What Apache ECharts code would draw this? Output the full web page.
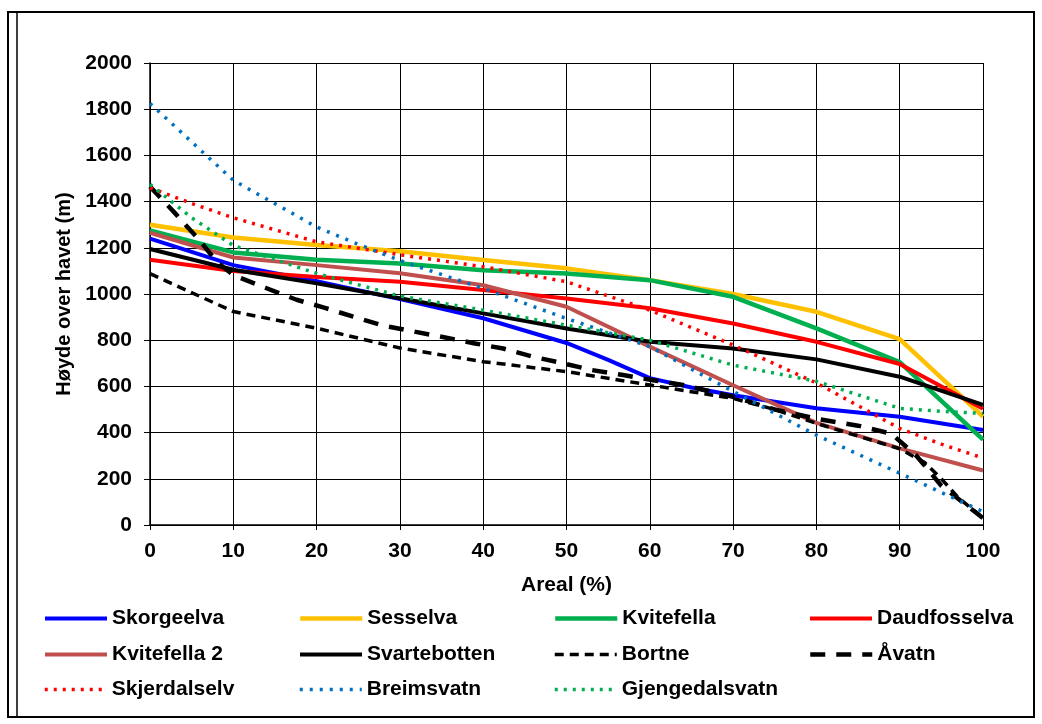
<!DOCTYPE html>
<html><head><meta charset="utf-8">
<script src="https://cdn.jsdelivr.net/npm/echarts@6/dist/echarts.min.js"></script>
<style>html,body{margin:0;padding:0;background:#fff}#c{width:1042px;height:724px}</style>
</head><body><div id="c"></div>
<script>
// Tick values
const xTicks = [0,10,20,30,40,50,60,70,80,90,100];
const yTicks = [0,200,400,600,800,1000,1200,1400,1600,1800,2000];
const xTitle = 'Areal (%)';
const yTitle = 'Høyde over havet (m)';

// Series data: [areal %, høyde m]
const skorgeelva = [[0,1240],[10,1125],[20,1055],[30,978],[40,895],[50,788],[55,715],[60,636],[65,595],[70,562],[80,505],[90,469],[100,411]];
const sesselva = [[0,1300],[10,1245],[20,1212],[30,1185],[40,1147],[50,1111],[60,1060],[70,1000],[80,923],[90,805],[100,469]];
const kvitefella = [[0,1275],[10,1180],[20,1148],[30,1132],[40,1103],[50,1089],[60,1060],[70,988],[80,851],[90,705],[100,370]];
const daudfosselva = [[0,1148],[10,1100],[20,1074],[30,1053],[40,1017],[50,981],[60,938],[70,872],[80,793],[90,697],[100,503]];
const kvitefella2 = [[0,1265],[10,1158],[20,1125],[30,1090],[40,1038],[50,945],[60,772],[70,605],[80,442],[90,332],[100,236]];
const svartebotten = [[0,1195],[10,1105],[20,1046],[30,982],[40,916],[50,851],[60,793],[70,764],[80,717],[90,642],[100,520]];
const bortne = [[0,1088],[10,924],[20,852],[30,766],[40,707],[50,664],[60,606],[70,548],[75,500],[80,440],[85,385],[90,330],[93,270],[95,200],[97,120],[100,30]];
const aavatn = [[0,1465],[3,1350],[6,1230],[8,1140],[10,1082],[14,1025],[17.6,975],[21,940],[24.4,902],[28,863],[31.6,838],[35,815],[39,786],[42.4,764],[46,728],[49.6,700],[53,671],[56.8,649],[60.4,627],[64,606],[70,555],[75,500],[80,460],[85,430],[89,395],[92,300],[95,170],[100,30]];
const skjerdalselv = [[0,1460],[5,1392],[10,1330],[20,1226],[30,1170],[40,1118],[50,1053],[60,930],[70,779],[80,615],[90,418],[95,350],[100,290]];
const breimsvatn = [[0,1825],[10,1492],[12.8,1435],[16.4,1363],[20,1290],[24.8,1218],[30,1145],[40,1024],[50,894],[60,772],[70,578],[80,389],[90,224],[100,58]];
const gjengedalsvatn = [[0,1475],[5,1330],[10,1210],[20,1089],[30,991],[40,930],[50,865],[60,800],[70,692],[80,622],[90,505],[95,492],[100,483]];

const FONT = 'Liberation Sans';
const seriesDefs = [
  {name:'Skorgeelva', data:skorgeelva, color:'#0000FF', width:4, type:'solid'},
  {name:'Sesselva', data:sesselva, color:'#FFC000', width:4.5, type:'solid'},
  {name:'Kvitefella', data:kvitefella, color:'#00B050', width:4.5, type:'solid'},
  {name:'Daudfosselva', data:daudfosselva, color:'#FF0000', width:4, type:'solid'},
  {name:'Kvitefella 2', data:kvitefella2, color:'#C0504D', width:4, type:'solid'},
  {name:'Svartebotten', data:svartebotten, color:'#000000', width:4, type:'solid'},
  {name:'Bortne', data:bortne, color:'#000000', width:3.5, type:[9,6]},
  {name:'Åvatn', data:aavatn, color:'#000000', width:4.5, type:[15,11]},
  {name:'Skjerdalselv', data:skjerdalselv, color:'#FF0000', width:3.5, type:[3,6]},
  {name:'Breimsvatn', data:breimsvatn, color:'#0070C0', width:3.5, type:[3,7]},
  {name:'Gjengedalsvatn', data:gjengedalsvatn, color:'#00B050', width:3.5, type:[3,6]}
];

const colX = [43, 298, 553, 808];
const rowY = [617, 653, 688];
const legends = seriesDefs.map((s, i) => ({
  data: [s.name],
  left: colX[i % 4],
  top: rowY[Math.floor(i / 4)] - 9,
  itemWidth: 62,
  itemHeight: 14,
  padding: 0,
  selectedMode: false,
  itemStyle: {opacity: 0},
  lineStyle: {width: s.width, color: s.color, type: s.type, cap: 'butt'},
  textStyle: {fontFamily: FONT, fontWeight: 'bold', fontSize: 21, color: '#000'}
}));

const chart = echarts.init(document.getElementById('c'), null, {renderer: 'canvas'});
chart.setOption({
  animation: false,
  backgroundColor: '#fff',
  textStyle: {fontFamily: FONT},
  graphic: [
    {type:'rect', shape:{x:8, y:12, width:1026, height:705}, style:{fill:'none', stroke:'#000', lineWidth:2}, z:100},
    {type:'line', shape:{x1:17, y1:12, x2:17, y2:717}, style:{stroke:'#000', lineWidth:1.5}, z:100}
  ],
  legend: legends,
  grid: {left:150, top:63, width:833, height:462, containLabel:false},
  xAxis: {
    type:'value', min:xTicks[0], max:xTicks[xTicks.length-1], interval:10,
    name: xTitle, nameLocation:'middle', nameGap:50,
    nameTextStyle:{fontFamily:FONT, fontWeight:'bold', fontSize:21, color:'#000'},
    axisLine:{show:true, lineStyle:{color:'#000', width:1.5}},
    axisTick:{show:true, length:5, lineStyle:{color:'#000'}},
    axisLabel:{fontFamily:FONT, fontWeight:'bold', fontSize:21, color:'#000', margin:16, formatter: v => String(v)},
    splitLine:{show:true, lineStyle:{color:'#000', width:1}}
  },
  yAxis: {
    type:'value', min:yTicks[0], max:yTicks[yTicks.length-1], interval:200,
    name: yTitle, nameLocation:'middle', nameGap:65, nameRotate:90,
    nameTextStyle:{fontFamily:FONT, fontWeight:'bold', fontSize:20, color:'#000'},
    axisLine:{show:true, lineStyle:{color:'#000', width:1.5}},
    axisTick:{show:true, length:6, lineStyle:{color:'#000'}},
    axisLabel:{fontFamily:FONT, fontWeight:'bold', fontSize:21, color:'#000', margin:18, formatter: v => String(v)},
    splitLine:{show:true, lineStyle:{color:'#000', width:1.2}}
  },
  series: seriesDefs.map(s => ({
    name: s.name, type:'line', data: s.data, showSymbol:false, symbol:'none',
    smooth:false, clip:true,
    color: s.color,
    lineStyle:{color:s.color, width:s.width, type:s.type, cap:'butt', join:'round'}
  }))
});
</script>
</body></html>
